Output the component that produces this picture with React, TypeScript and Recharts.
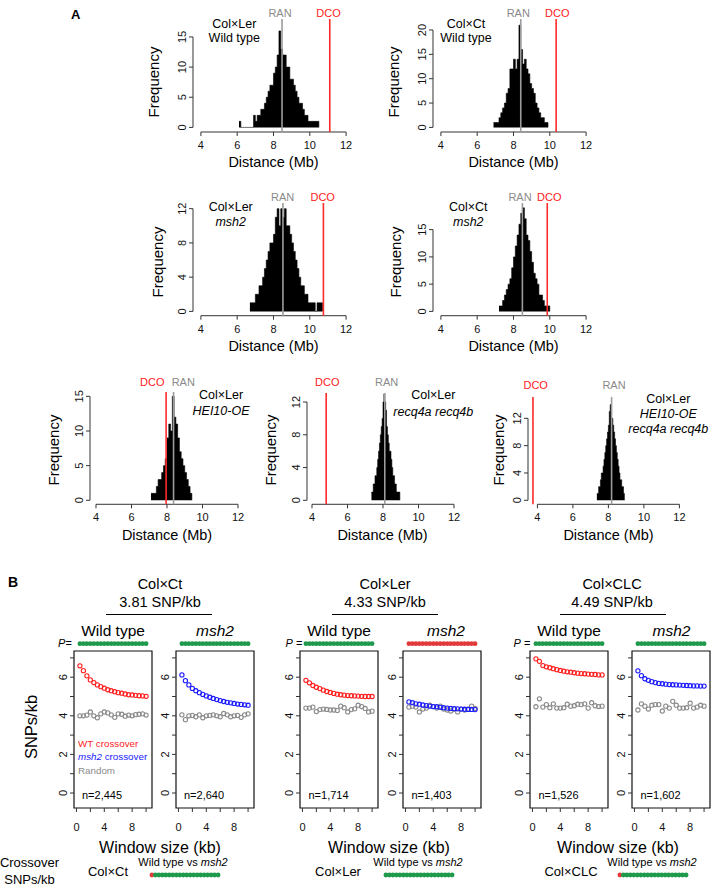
import React from "react";
import { ComposedChart, Area, XAxis, YAxis, ReferenceLine, ReferenceArea, Scatter } from "recharts";

const FONT = '"Liberation Sans", Arial, Helvetica, sans-serif';
const AX = "#333";
const RED = "#ff1e1e";
const BLUE = "#1a1aff";
const GRAY = "#8a8a8a";
const GREEN = "#1f9a4c";
const PRED = "#e23a3a";

// ---------------- Panel A: histogram data ----------------
const BIN_WIDE = 0.1;
const BIN_NARROW = 0.05;

const LER_WT_START = 6.1;
const LER_WT_COUNTS = [1, 0, 0, 0, 0, 0, 0, 0, 2, 1, 2, 2, 3, 3, 4, 5, 6, 7, 7, 9, 10, 12, 16, 13, 12, 12, 10, 10, 8, 8, 7, 6, 5, 4, 4, 3, 2, 2, 1, 1, 1, 1, 1, 1];
const CT_WT_START = 6.9;
const CT_WT_COUNTS = [1, 1, 1, 2, 3, 4, 5, 7, 8, 12, 12, 14, 12, 14, 21, 16, 13, 14, 12, 11, 9, 8, 7, 5, 4, 3, 2, 2, 1, 1];
const LER_MSH2_START = 6.7;
const LER_MSH2_COUNTS = [1, 1, 1, 2, 2, 3, 3, 4, 5, 6, 7, 8, 8, 9, 11, 12, 10, 12, 11, 12, 10, 10, 9, 8, 7, 6, 5, 4, 3, 3, 2, 2, 1, 1, 1, 1, 0, 1, 1, 1];
const CT_MSH2_START = 7.2;
const CT_MSH2_COUNTS = [1, 1, 2, 3, 4, 5, 6, 8, 10, 12, 14, 16, 18, 19, 17, 14, 13, 11, 9, 7, 6, 5, 3, 3, 2, 1, 1, 1];
const LER_HEI_START = 7.1;
const LER_HEI_COUNTS = [1, 1, 1, 2, 3, 3, 4, 5, 6, 9, 11, 10, 15, 12, 11, 9, 7, 6, 5, 4, 3, 2, 1];
const LER_RECQ_START = 7.35;
const LER_RECQ_COUNTS = [1, 1, 2, 2, 3, 3, 4, 5, 6, 7, 8, 9, 10, 12, 13, 12, 11, 9, 8, 7, 6, 6, 5, 4, 3, 3, 2, 2, 1, 1, 1, 1];
const LER_HEI_RECQ_START = 7.35;
const LER_HEI_RECQ_COUNTS = [1, 1, 2, 2, 3, 4, 4, 5, 6, 7, 8, 9, 10, 11, 13, 14, 12, 12, 11, 10, 9, 8, 7, 6, 5, 4, 3, 3, 2, 2, 1];

const RAN_VALUES = [8.47, 8.4, 8.52, 8.49, 8.37, 8.1, 8.18];
const DCO_VALUES = [11.1, 10.35, 10.75, 9.86, 7.95, 4.8, 3.75];
const X_TICKS_A = [4, 6, 8, 10, 12];

// ---------------- Panel B data ----------------
const WINDOWS = [0.5, 1, 1.5, 2, 2.5, 3, 3.5, 4, 4.5, 5, 5.5, 6, 6.5, 7, 7.5, 8, 8.5, 9, 9.5, 10];

const CT_WT = [6.59, 6.34, 6.07, 5.86, 5.72, 5.6, 5.51, 5.43, 5.35, 5.3, 5.25, 5.2, 5.17, 5.13, 5.09, 5.08, 5.06, 5.04, 5.03, 5.01];
const CT_WT_RANDOM = [4.0, 4.0, 4.04, 4.2, 4.0, 3.9, 4.1, 4.2, 4.15, 4.05, 3.92, 4.1, 4.08, 3.98, 4.04, 4.0, 4.06, 4.08, 4.1, 4.04];
const CT_MSH2 = [6.12, 5.82, 5.6, 5.42, 5.3, 5.2, 5.11, 5.03, 4.96, 4.9, 4.84, 4.79, 4.74, 4.7, 4.67, 4.64, 4.61, 4.59, 4.57, 4.55];
const CT_MSH2_RANDOM = [4.05, 3.8, 4.0, 4.02, 3.95, 4.05, 3.9, 4.0, 4.02, 4.05, 4.0, 3.95, 4.12, 4.05, 3.95, 4.0, 4.02, 3.92, 4.05, 4.1];
const LER_WT = [5.84, 5.71, 5.57, 5.48, 5.41, 5.33, 5.26, 5.21, 5.16, 5.12, 5.09, 5.07, 5.05, 5.04, 5.03, 5.02, 5.01, 5.0, 5.0, 5.0];
const LER_WT_RANDOM = [4.4, 4.4, 4.45, 4.22, 4.32, 4.35, 4.33, 4.3, 4.3, 4.28, 4.5, 4.42, 4.2, 4.32, 4.36, 4.55, 4.48, 4.38, 4.2, 4.24];
const LER_MSH2 = [4.72, 4.68, 4.62, 4.6, 4.56, 4.53, 4.5, 4.48, 4.47, 4.44, 4.42, 4.4, 4.38, 4.37, 4.36, 4.35, 4.34, 4.33, 4.33, 4.32];
const LER_MSH2_RANDOM = [4.45, 4.5, 4.45, 4.2, 4.35, 4.4, 4.55, 4.48, 4.4, 4.5, 4.35, 4.3, 4.25, 4.35, 4.2, 4.35, 4.3, 4.35, 4.5, 4.38];
const CLC_WT = [6.95, 6.82, 6.6, 6.54, 6.49, 6.44, 6.39, 6.35, 6.31, 6.28, 6.26, 6.23, 6.21, 6.19, 6.18, 6.16, 6.15, 6.14, 6.12, 6.12];
const CLC_WT_RANDOM = [4.47, 4.88, 4.45, 4.58, 4.42, 4.62, 4.4, 4.4, 4.42, 4.6, 4.5, 4.52, 4.6, 4.58, 4.62, 4.4, 4.68, 4.52, 4.48, 4.5];
const CLC_MSH2 = [6.33, 6.08, 5.92, 5.84, 5.77, 5.72, 5.68, 5.66, 5.64, 5.62, 5.61, 5.6, 5.59, 5.58, 5.57, 5.56, 5.55, 5.55, 5.54, 5.54];
const CLC_MSH2_RANDOM = [4.3, 4.62, 4.5, 4.35, 4.55, 4.58, 4.58, 4.25, 4.5, 4.4, 4.75, 4.55, 4.4, 4.4, 4.42, 4.65, 4.4, 4.45, 4.55, 4.5];

// significance per window (1 = significant / green, 0 = not significant / red)
const SIG_ALL = [1, 1, 1, 1, 1, 1, 1, 1, 1, 1, 1, 1, 1, 1, 1, 1, 1, 1, 1, 1];
const SIG_NONE = [0, 0, 0, 0, 0, 0, 0, 0, 0, 0, 0, 0, 0, 0, 0, 0, 0, 0, 0, 0];
const SIG_CT_CMP = [0, 1, 1, 1, 1, 1, 1, 1, 1, 1, 1, 1, 1, 1, 1, 1, 1, 1, 1, 1];
const SIG_LER_CMP = [1, 1, 1, 1, 1, 1, 1, 1, 1, 1, 1, 1, 1, 1, 1, 1, 1, 1, 1, 1];
const SIG_CLC_CMP = [0, 1, 1, 1, 1, 1, 1, 1, 1, 1, 1, 1, 1, 1, 1, 1, 1, 1, 1, 1];

const Y_TICKS_B = [0, 1, 2, 3, 4, 5, 6, 7];
const X_TICKS_B = [0, 2, 4, 6, 8, 10];

// ---------------- helpers ----------------
type TxtProps = {
  x: number; y: number; size?: number; color?: string; anchor?: "start" | "middle" | "end";
  rotate?: number; italic?: boolean; bold?: boolean; children: React.ReactNode;
};
function Txt({ x, y, size = 12, color = "#000", anchor = "middle", rotate = 0, italic, bold, children }: TxtProps) {
  const tx = anchor === "middle" ? -50 : anchor === "end" ? -100 : 0;
  return (
    <div
      style={{
        position: "absolute", left: x, top: y, fontSize: size, color, lineHeight: 1, whiteSpace: "nowrap",
        fontStyle: italic ? "italic" : "normal", fontWeight: bold ? "bold" : "normal",
        transform: `translate(${tx}%, -50%) rotate(${rotate}deg)`, fontFamily: FONT,
      }}
    >
      {children}
    </div>
  );
}

const makeXTick = (fs: number, show: (v: number) => boolean) => (p: any) => {
  const v = p.payload.value;
  if (!show(v)) return <g />;
  return (
    <text x={p.x} y={p.y} dy="0.72em" textAnchor="middle" fontSize={fs} fontFamily={FONT} fill="#111">
      {v}
    </text>
  );
};
const makeYTick = (fs: number, show: (v: number) => boolean) => (p: any) => {
  const v = p.payload.value;
  if (!show(v)) return <g />;
  return (
    <text x={p.x} y={p.y} transform={`rotate(-90 ${p.x} ${p.y})`} textAnchor="middle" fontSize={fs} fontFamily={FONT} fill="#111">
      {v}
    </text>
  );
};
const always = () => true;

// ---------------- Histogram ----------------
type HistGeo = { axisX: number; x4: number; pxMb: number; y0: number; pxCount: number; top: number; axisY: number };

function Histogram({ start, binW, counts, ran, dco, yTicks, g }: {
  start: number; binW: number; counts: number[]; ran: number; dco: number; yTicks: number[]; g: HistGeo;
}) {
  const ML = 22, MR = 2, MB = 26, MT = 10;
  const xMin = 4 - (g.x4 - g.axisX) / g.pxMb;
  const xMax = 12.4;
  const plotW = (xMax - xMin) * g.pxMb;
  const yMax = (g.y0 - g.top) / g.pxCount;
  const yMin = -(g.axisY - g.y0) / g.pxCount;
  const plotH = g.axisY - g.top;
  const data = counts.map((c, i) => ({ x: +(start + i * binW).toFixed(3), c }));
  data.push({ x: +(start + counts.length * binW).toFixed(3), c: 0 });
  const yTop = yTicks[yTicks.length - 1];
  return (
    <div style={{ position: "absolute", left: g.axisX - ML, top: g.top - MT }}>
      <ComposedChart width={plotW + ML + MR} height={plotH + MB + MT} data={data} margin={{ top: MT, right: MR, bottom: 0, left: 0 }}>
        <XAxis dataKey="x" type="number" domain={[xMin, xMax]} allowDataOverflow ticks={X_TICKS_A} interval={0}
          axisLine={false} tickSize={4} tickMargin={5} height={MB} tickLine={{ stroke: AX }} tick={makeXTick(11, always)} />
        <YAxis type="number" domain={[yMin, yMax]} allowDataOverflow ticks={yTicks} interval={0}
          axisLine={false} tickSize={4} tickMargin={3} width={ML} tickLine={{ stroke: AX }} tick={makeYTick(11, always)} />
        <Area type="stepAfter" dataKey="c" stroke="#000" strokeWidth={0.6} fill="#000" fillOpacity={1}
          isAnimationActive={false} dot={false} activeDot={false} />
        <ReferenceLine segment={[{ x: 4, y: yMin }, { x: 12, y: yMin }]} stroke={AX} ifOverflow="visible" />
        <ReferenceLine segment={[{ x: xMin, y: 0 }, { x: xMin, y: yTop }]} stroke={AX} ifOverflow="visible" />
        <ReferenceLine x={ran} stroke="#9c9c9c" strokeWidth={1.6} ifOverflow="visible" />
        <ReferenceLine x={dco} stroke="#ff2a2a" strokeWidth={1.6} ifOverflow="visible" />
      </ComposedChart>
    </div>
  );
}

// ---------------- SNP panel ----------------
const PLOT_TOP = 639;
const BOX_BOTTOM = 808;
const Y0_PX = 793;
const PX_UNIT = 19.3;
const BOX_W = 78;
const SY_MIN = -(BOX_BOTTOM - Y0_PX) / PX_UNIT;
const SY_MAX = (Y0_PX - PLOT_TOP) / PX_UNIT;
const BOX_TOP_Y = (Y0_PX - 651) / PX_UNIT;
const P_ROW_Y = (Y0_PX - 643.7) / PX_UNIT;
const SX_MIN = -0.35;
const SX_MAX = 10.85;

const hollow = (color: string) => (p: any) => (
  <circle cx={p.cx} cy={p.cy} r={2.1} fill="none" stroke={color} strokeWidth={1.1} />
);
const sigDot = (r: number) => (p: any) => (
  <circle cx={p.cx} cy={p.cy} r={r} fill={p.payload.s ? GREEN : PRED} stroke="none" />
);

function SnpPanel({ left, cross, rand, color, sig }: { left: number; cross: number[]; rand: number[]; color: string; sig: number[] }) {
  const ML = 26, MR = 2, MB = 30, MT = 6;
  const crossData = WINDOWS.map((w, i) => ({ w, v: cross[i] }));
  const randData = WINDOWS.map((w, i) => ({ w, v: rand[i] }));
  const pData = WINDOWS.map((w, i) => ({ w, v: P_ROW_Y, s: sig[i] }));
  return (
    <div style={{ position: "absolute", left: left - ML, top: PLOT_TOP - MT }}>
      <ComposedChart width={BOX_W + ML + MR} height={BOX_BOTTOM - PLOT_TOP + MB + MT} margin={{ top: MT, right: MR, bottom: 0, left: 0 }}>
        <XAxis dataKey="w" type="number" domain={[SX_MIN, SX_MAX]} allowDataOverflow ticks={X_TICKS_B} interval={0}
          axisLine={false} tickSize={4} tickMargin={11} height={MB} tickLine={{ stroke: AX }}
          tick={makeXTick(11, (v) => v === 0 || v === 4 || v === 8)} />
        <YAxis dataKey="v" type="number" domain={[SY_MIN, SY_MAX]} allowDataOverflow ticks={Y_TICKS_B} interval={0}
          axisLine={false} tickSize={4} tickMargin={3} width={ML} tickLine={{ stroke: AX }}
          tick={makeYTick(11, (v) => v % 2 === 0)} />
        <ReferenceArea x1={SX_MIN} x2={SX_MAX} y1={SY_MIN} y2={BOX_TOP_Y} fill="none" stroke="#111" strokeWidth={1.2}
          fillOpacity={0} ifOverflow="visible" />
        <Scatter data={randData} shape={hollow(GRAY)} isAnimationActive={false} />
        <Scatter data={crossData} shape={hollow(color)} isAnimationActive={false} />
        <Scatter data={pData} shape={sigDot(2.4)} isAnimationActive={false} />
      </ComposedChart>
    </div>
  );
}

function CmpRow({ left, top, sig }: { left: number; top: number; sig: number[] }) {
  const pxKb = BOX_W / (SX_MAX - SX_MIN);
  const data = WINDOWS.map((w, i) => ({ w, v: 0, s: sig[i] }));
  return (
    <div style={{ position: "absolute", left, top }}>
      <ComposedChart width={(SX_MAX - SX_MIN) * pxKb} height={10} margin={{ top: 0, right: 0, bottom: 0, left: 0 }}>
        <XAxis dataKey="w" type="number" domain={[SX_MIN, SX_MAX]} hide />
        <YAxis dataKey="v" type="number" domain={[-1, 1]} hide />
        <Scatter data={data} shape={sigDot(2.4)} isAnimationActive={false} />
      </ComposedChart>
    </div>
  );
}

// ---------------- App ----------------
const G1: HistGeo = { axisX: 192.5, x4: 200.4, pxMb: 18.15, y0: 127.7, pxCount: 6.03, top: 19.3, axisY: 132.3 };
const G2: HistGeo = { axisX: 432.5, x4: 440.4, pxMb: 18.15, y0: 127.7, pxCount: 4.87, top: 19.3, axisY: 132.3 };
const G3: HistGeo = { axisX: 192.5, x4: 200.4, pxMb: 18.15, y0: 311.7, pxCount: 8.56, top: 203.3, axisY: 316 };
const G4: HistGeo = { axisX: 432.5, x4: 440.4, pxMb: 18.15, y0: 311.7, pxCount: 5.45, top: 203.3, axisY: 316 };
const G5: HistGeo = { axisX: 90, x4: 96, pxMb: 17.75, y0: 500, pxCount: 6.93, top: 391.7, axisY: 504 };
const G6: HistGeo = { axisX: 306.7, x4: 311.7, pxMb: 17.75, y0: 500, pxCount: 8.19, top: 392.7, axisY: 504 };
const G7: HistGeo = { axisX: 528.3, x4: 537.7, pxMb: 17.75, y0: 500, pxCount: 6.83, top: 396.7, axisY: 504 };

export default function App() {
  const fq = 15, dist = 14.5, tt = 12.5, rd = 11;
  return (
    <div style={{ position: "absolute", left: 0, top: 0, width: 712, height: 886, background: "#fff", fontFamily: FONT, overflow: "hidden" }}>
      {/* ---------- Panel A ---------- */}
      <Txt x={71} y={14} size={13} bold anchor="start">A</Txt>

      <Histogram start={LER_WT_START} binW={BIN_WIDE} counts={LER_WT_COUNTS} ran={RAN_VALUES[0]} dco={DCO_VALUES[0]} yTicks={[0, 5, 10, 15]} g={G1} />
      <Histogram start={CT_WT_START} binW={BIN_WIDE} counts={CT_WT_COUNTS} ran={RAN_VALUES[1]} dco={DCO_VALUES[1]} yTicks={[0, 5, 10, 15, 20]} g={G2} />
      <Histogram start={LER_MSH2_START} binW={BIN_WIDE} counts={LER_MSH2_COUNTS} ran={RAN_VALUES[2]} dco={DCO_VALUES[2]} yTicks={[0, 4, 8, 12]} g={G3} />
      <Histogram start={CT_MSH2_START} binW={BIN_WIDE} counts={CT_MSH2_COUNTS} ran={RAN_VALUES[3]} dco={DCO_VALUES[3]} yTicks={[0, 5, 10, 15]} g={G4} />
      <Histogram start={LER_HEI_START} binW={BIN_WIDE} counts={LER_HEI_COUNTS} ran={RAN_VALUES[4]} dco={DCO_VALUES[4]} yTicks={[0, 5, 10, 15]} g={G5} />
      <Histogram start={LER_RECQ_START} binW={BIN_NARROW} counts={LER_RECQ_COUNTS} ran={RAN_VALUES[5]} dco={DCO_VALUES[5]} yTicks={[0, 4, 8, 12]} g={G6} />
      <Histogram start={LER_HEI_RECQ_START} binW={BIN_NARROW} counts={LER_HEI_RECQ_COUNTS} ran={RAN_VALUES[6]} dco={DCO_VALUES[6]} yTicks={[0, 4, 8, 12]} g={G7} />

      {/* row 1 */}
      <Txt x={280} y={12.5} size={rd} color="#8a8a8a">RAN</Txt>
      <Txt x={328.5} y={12.5} size={rd} color="#ff1a1a">DCO</Txt>
      <Txt x={234.3} y={24.3} size={tt}>Col×Ler</Txt>
      <Txt x={234.3} y={37.7} size={tt}>Wild type</Txt>
      <Txt x={153.3} y={81.7} size={fq} rotate={-90}>Frequency</Txt>
      <Txt x={273.5} y={162.3} size={dist}>Distance (Mb)</Txt>

      <Txt x={518.3} y={12.5} size={rd} color="#8a8a8a">RAN</Txt>
      <Txt x={557.3} y={12.5} size={rd} color="#ff1a1a">DCO</Txt>
      <Txt x={466} y={24.3} size={tt}>Col×Ct</Txt>
      <Txt x={466} y={37.7} size={tt}>Wild type</Txt>
      <Txt x={393.3} y={81.7} size={fq} rotate={-90}>Frequency</Txt>
      <Txt x={513.5} y={162.3} size={dist}>Distance (Mb)</Txt>

      {/* row 2 */}
      <Txt x={282.7} y={196.7} size={rd} color="#8a8a8a">RAN</Txt>
      <Txt x={322.7} y={196.7} size={rd} color="#ff1a1a">DCO</Txt>
      <Txt x={230.7} y={207.3} size={tt}>Col×Ler</Txt>
      <Txt x={230.7} y={222.3} size={tt} italic>msh2</Txt>
      <Txt x={156.7} y={261.7} size={fq} rotate={-90}>Frequency</Txt>
      <Txt x={273.5} y={346} size={dist}>Distance (Mb)</Txt>

      <Txt x={520} y={196.7} size={rd} color="#8a8a8a">RAN</Txt>
      <Txt x={549.3} y={196.7} size={rd} color="#ff1a1a">DCO</Txt>
      <Txt x={468.3} y={207.3} size={tt}>Col×Ct</Txt>
      <Txt x={468.3} y={222.3} size={tt} italic>msh2</Txt>
      <Txt x={395} y={261.7} size={fq} rotate={-90}>Frequency</Txt>
      <Txt x={513.5} y={346} size={dist}>Distance (Mb)</Txt>

      {/* row 3 */}
      <Txt x={152.3} y={382.3} size={rd} color="#ff1a1a">DCO</Txt>
      <Txt x={183.3} y={382.3} size={rd} color="#8a8a8a">RAN</Txt>
      <Txt x={221} y={395} size={tt}>Col×Ler</Txt>
      <Txt x={221} y={411} size={tt} italic>HEI10-OE</Txt>
      <Txt x={53.3} y={450} size={fq} rotate={-90}>Frequency</Txt>
      <Txt x={167} y={534.5} size={dist}>Distance (Mb)</Txt>

      <Txt x={327.3} y={382.3} size={rd} color="#ff1a1a">DCO</Txt>
      <Txt x={386.7} y={382.3} size={rd} color="#8a8a8a">RAN</Txt>
      <Txt x={433.3} y={395} size={tt}>Col×Ler</Txt>
      <Txt x={433.3} y={411.7} size={tt} italic>recq4a recq4b</Txt>
      <Txt x={270} y={450} size={fq} rotate={-90}>Frequency</Txt>
      <Txt x={382.5} y={534.5} size={dist}>Distance (Mb)</Txt>

      <Txt x={535.7} y={385} size={rd} color="#ff1a1a">DCO</Txt>
      <Txt x={614} y={385} size={rd} color="#8a8a8a">RAN</Txt>
      <Txt x={668.3} y={399.3} size={tt}>Col×Ler</Txt>
      <Txt x={668.3} y={414} size={tt} italic>HEI10-OE</Txt>
      <Txt x={668.3} y={429} size={tt} italic>recq4a recq4b</Txt>
      <Txt x={498.3} y={450} size={fq} rotate={-90}>Frequency</Txt>
      <Txt x={608.5} y={534.5} size={dist}>Distance (Mb)</Txt>

      {/* ---------- Panel B ---------- */}
      <Txt x={8} y={582} size={14} bold anchor="start">B</Txt>

      <Txt x={160} y={584} size={14.5}>Col×Ct</Txt>
      <Txt x={160} y={602} size={14.5}>3.81 SNP/kb</Txt>
      <div style={{ position: "absolute", left: 106, top: 614, width: 106, height: 1, background: "#000" }} />
      <Txt x={385} y={584} size={14.5}>Col×Ler</Txt>
      <Txt x={385} y={602} size={14.5}>4.33 SNP/kb</Txt>
      <div style={{ position: "absolute", left: 332, top: 614, width: 106, height: 1, background: "#000" }} />
      <Txt x={612} y={584} size={14.5}>Col×CLC</Txt>
      <Txt x={612} y={602} size={14.5}>4.49 SNP/kb</Txt>
      <div style={{ position: "absolute", left: 560, top: 614, width: 106, height: 1, background: "#000" }} />

      <Txt x={113} y={630.7} size={15.5}>Wild type</Txt>
      <Txt x={215} y={630.7} size={15.5} italic>msh2</Txt>
      <Txt x={339} y={630.7} size={15.5}>Wild type</Txt>
      <Txt x={446} y={630.7} size={15.5} italic>msh2</Txt>
      <Txt x={569} y={630.7} size={15.5}>Wild type</Txt>
      <Txt x={671.5} y={630.7} size={15.5} italic>msh2</Txt>

      <Txt x={65} y={643} size={11}><i>P</i>=</Txt>
      <Txt x={294} y={643} size={11}><i>P</i> =</Txt>
      <Txt x={522} y={643} size={11}><i>P</i> =</Txt>

      <SnpPanel left={73.5} cross={CT_WT} rand={CT_WT_RANDOM} color={RED} sig={SIG_ALL} />
      <SnpPanel left={175.5} cross={CT_MSH2} rand={CT_MSH2_RANDOM} color={BLUE} sig={SIG_ALL} />
      <SnpPanel left={300} cross={LER_WT} rand={LER_WT_RANDOM} color={RED} sig={SIG_ALL} />
      <SnpPanel left={403} cross={LER_MSH2} rand={LER_MSH2_RANDOM} color={BLUE} sig={SIG_NONE} />
      <SnpPanel left={530} cross={CLC_WT} rand={CLC_WT_RANDOM} color={RED} sig={SIG_ALL} />
      <SnpPanel left={632} cross={CLC_MSH2} rand={CLC_MSH2_RANDOM} color={BLUE} sig={SIG_ALL} />

      <Txt x={78} y={744} size={9.8} color={RED} anchor="start">WT crossover</Txt>
      <Txt x={78} y={756.5} size={9.8} color={BLUE} anchor="start"><i>msh2</i> crossover</Txt>
      <Txt x={78} y={770.5} size={9.8} color={GRAY} anchor="start">Random</Txt>

      <Txt x={82} y={795} size={11} anchor="start">n=2,445</Txt>
      <Txt x={184} y={795} size={11} anchor="start">n=2,640</Txt>
      <Txt x={308.5} y={795} size={11} anchor="start">n=1,714</Txt>
      <Txt x={411.5} y={795} size={11} anchor="start">n=1,403</Txt>
      <Txt x={538.5} y={795} size={11} anchor="start">n=1,526</Txt>
      <Txt x={640.5} y={795} size={11} anchor="start">n=1,602</Txt>

      <Txt x={31} y={727} size={16.5} rotate={-90}>SNPs/kb</Txt>
      <Txt x={160} y={848} size={16}>Window size (kb)</Txt>
      <Txt x={389} y={848} size={16}>Window size (kb)</Txt>
      <Txt x={618} y={848} size={16}>Window size (kb)</Txt>

      {/* bottom comparison rows */}
      <Txt x={29.5} y={862} size={13}>Crossover</Txt>
      <Txt x={29.5} y={879} size={13}>SNPs/kb</Txt>
      <Txt x={108} y={871} size={13}>Col×Ct</Txt>
      <Txt x={183} y={862} size={11}>Wild type vs <i>msh2</i></Txt>
      <CmpRow left={146} top={870} sig={SIG_CT_CMP} />
      <Txt x={338} y={871} size={13}>Col×Ler</Txt>
      <Txt x={418} y={862} size={11}>Wild type vs <i>msh2</i></Txt>
      <CmpRow left={380} top={870} sig={SIG_LER_CMP} />
      <Txt x={571} y={871} size={13}>Col×CLC</Txt>
      <Txt x={652} y={862} size={11}>Wild type vs <i>msh2</i></Txt>
      <CmpRow left={614} top={870} sig={SIG_CLC_CMP} />
    </div>
  );
}
